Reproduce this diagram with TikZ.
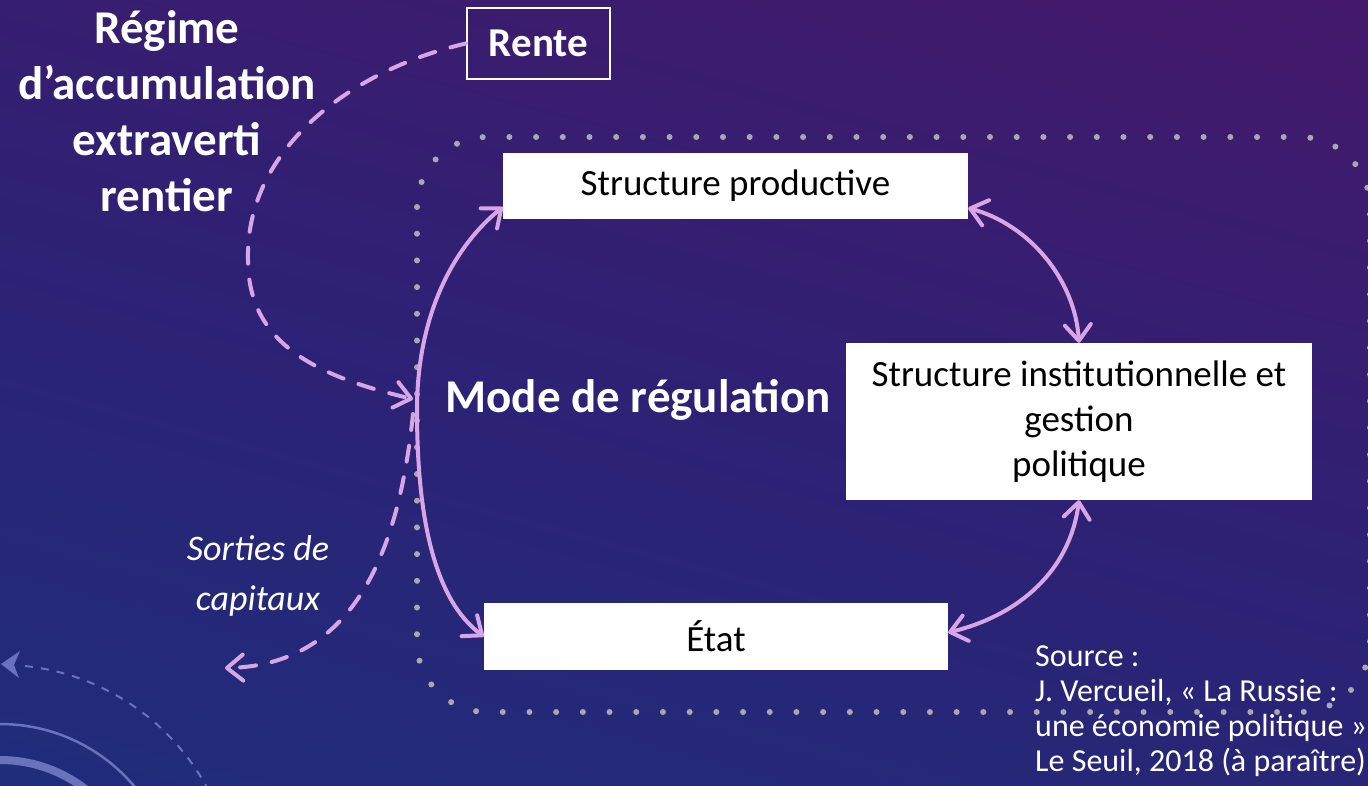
\documentclass[tikz,border=0pt]{standalone}
\usepackage{fontspec}
\setmainfont{Carlito}
\usetikzlibrary{arrows.meta,calc}
\definecolor{bgTop}{HTML}{46186A}
\definecolor{bgMid}{HTML}{2E2174}
\definecolor{bgBot}{HTML}{1E2E7C}
\definecolor{arrowc}{HTML}{D8A6E6}
\definecolor{dotc}{HTML}{A8A8B0}
\definecolor{decoc}{HTML}{6A72BC}
\begin{document}
\begin{tikzpicture}[x=1pt,y=-1pt,
  tip/.tip={Straight Barb[length=16pt,width=26pt,line cap=round,line join=round]},
  box/.style={fill=white, inner sep=0pt, text=black, align=center,
    font=\fontsize{37}{45}\selectfont},
  arr/.style={draw=arrowc, line width=4pt, line cap=round, arrows={-tip}},
  biarr/.style={arr, arrows={tip-tip}},
  dasharr/.style={arr, dash pattern=on 16pt off 16pt},
  dotted frame/.style={draw=dotc, line width=6pt, line cap=round, dash pattern=on 0pt off 26.7pt, rounded corners=70pt},
  label white/.style={text=white, inner sep=0pt}
]
\useasboundingbox (0,0) rectangle (1368,785);
% background
\shade[top color=bgTop, bottom color=bgBot, middle color=bgMid, shading angle=-15] (-150,-150) rectangle (1518,935);
% decorative arcs (bottom left)
\begin{scope}
  \clip (0,0) rectangle (1368,785);
  \draw[decoc, line width=2pt, dash pattern=on 8pt off 8pt] (25,666) arc[start angle=-84, end angle=-10, radius=235];
  \fill[decoc] (1,664) -- (20,651) -- (14,665) -- (19,678) -- cycle;
  \draw[decoc, line width=2.5pt] (0,900) circle[radius=176];
  \draw[decoc, line width=8pt] (0,900) circle[radius=140];
\end{scope}
% dotted frame
\draw[dotted frame] (417,137) rectangle (1370,712);
% nodes
\node[box, minimum width=465pt, minimum height=66pt] (sp) at (735.5,186) {Structure productive};
\node[box, minimum width=466pt, minimum height=157pt] (inst) at (1079,421.5) {Structure institutionnelle et\\gestion\\politique};
\node[box, minimum width=464pt, minimum height=67pt] (etat) at (716,636.5) {État};
\node[draw=white, line width=2pt, inner sep=0pt, minimum width=143pt, minimum height=71pt, text=white,
  font=\fontsize{41}{49}\bfseries\selectfont] (rente) at (538.5,43.5) {Rente};
\node[label white, align=center, font=\fontsize{47}{56}\bfseries\selectfont] (regime) at (167,111) {Régime\\d’accumulation\\extraverti\\rentier};
\node[label white, font=\fontsize{47}{56}\bfseries\selectfont] (mode) at (638,400) {Mode de régulation};
\node[label white, align=center, font=\fontsize{36}{50}\itshape\selectfont] (sorties) at (258,576) {Sorties de\\capitaux};
\node[label white, align=left, anchor=west, font=\fontsize{32}{35}\selectfont] (src) at (1035,711) {Source :\\J. Vercueil, « La Russie :\\une économie politique »\\Le Seuil, 2018 (à paraître)};
% coordinates on the regulation arc
\coordinate (mid) at (417,410);
\coordinate (inpt) at (413,399);
\coordinate (outpt) at (413,414);
\coordinate (exit) at (225,668);
% connectors
\draw[biarr] ($(sp.west)+(0,21)$) .. controls (450,250) and (417,320) .. (mid) .. controls (417,520) and (435,600) .. (etat.west);
\draw[biarr] ($(sp.east)+(0,22)$) .. controls (1030,225) and (1075,280) .. (inst.north);
\draw[biarr] (inst.south) .. controls (1070,570) and (1020,615) .. ($(etat.east)+(0,-4)$);
\draw[dasharr] (rente.west) .. controls (350,70) and (245,150) .. (248,260) .. controls (248,340) and (310,375) .. (inpt);
\draw[dasharr] (outpt) .. controls (400,540) and (360,665) .. (exit);
\end{tikzpicture}
\end{document}
